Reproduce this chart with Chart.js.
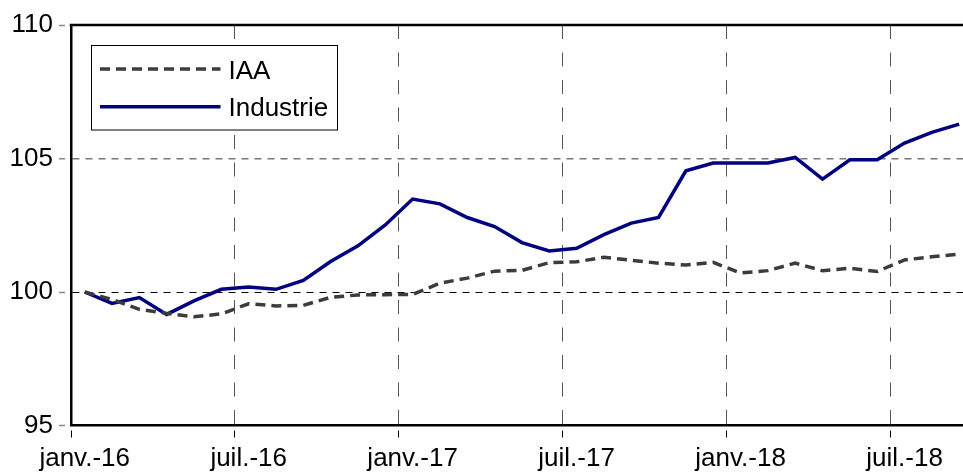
<!DOCTYPE html>
<html>
<head>
<meta charset="utf-8">
<script src="https://cdn.jsdelivr.net/npm/chart.js@4/dist/chart.umd.min.js"></script>
<style>
  html, body { margin: 0; padding: 0; background: #fff; overflow: hidden; }
  canvas { display: block; }
</style>
</head>
<body>
<canvas id="chart" width="963" height="473"></canvas>
<script>
// Monthly index, base 100 = janv.-16
const categories = [
  'janv.-16', 'févr.-16', 'mars-16', 'avr.-16', 'mai-16', 'juin-16',
  'juil.-16', 'août-16', 'sept.-16', 'oct.-16', 'nov.-16', 'déc.-16',
  'janv.-17', 'févr.-17', 'mars-17', 'avr.-17', 'mai-17', 'juin-17',
  'juil.-17', 'août-17', 'sept.-17', 'oct.-17', 'nov.-17', 'déc.-17',
  'janv.-18', 'févr.-18', 'mars-18', 'avr.-18', 'mai-18', 'juin-18',
  'juil.-18', 'août-18', 'sept.-18'
];
const iaa = [
  100.0, 99.72, 99.35, 99.2, 99.07, 99.18, 99.56, 99.48, 99.5, 99.8, 99.89, 99.9,
  99.91, 100.33, 100.52, 100.78, 100.81, 101.1, 101.13, 101.3, 101.19, 101.08, 101.01, 101.11,
  100.71, 100.8, 101.08, 100.8, 100.89, 100.77, 101.2, 101.32, 101.42
];
const industrie = [
  100.0, 99.57, 99.79, 99.16, 99.67, 100.1, 100.19, 100.1, 100.43, 101.14, 101.73, 102.51,
  103.48, 103.3, 102.79, 102.45, 101.85, 101.54, 101.64, 102.15, 102.58, 102.79, 104.54, 104.83,
  104.83, 104.83, 105.04, 104.23, 104.95, 104.95, 105.58, 105.98, 106.29
];
// x ticks sit on month boundaries, every 6 months
const xTickValues = [-0.5, 5.5, 11.5, 17.5, 23.5, 29.5];
const yTicks = [95, 100, 105, 110];

const FONT = "'Liberation Sans', Arial, sans-serif";
Chart.defaults.font.family = FONT;
Chart.defaults.color = '#000';

const toPoints = arr => arr.map((v, i) => ({ x: i, y: v }));

// top frame line + legend box drawn inside the plot
const frameAndLegend = {
  id: 'frameAndLegend',
  afterDatasetsDraw(chart) {
    const { ctx, chartArea } = chart;
    ctx.save();
    ctx.strokeStyle = '#000';
    ctx.lineWidth = 2.5;
    ctx.beginPath();
    ctx.moveTo(chartArea.left - 1.25, chartArea.top);
    ctx.lineTo(chartArea.right, chartArea.top);
    ctx.stroke();

    const bx = chartArea.left + 20.5, by = 45.5;
    ctx.fillStyle = '#fff';
    ctx.fillRect(bx, by, 246, 84.5);
    ctx.lineWidth = 1;
    ctx.strokeRect(bx, by, 246, 84.5);

    ctx.font = '26px ' + FONT;
    ctx.textBaseline = 'alphabetic';
    chart.data.datasets.forEach((ds, i) => {
      const y = 69 + i * 37.7;
      ctx.strokeStyle = ds.borderColor;
      ctx.lineWidth = ds.borderWidth;
      ctx.setLineDash(ds.borderDash || []);
      ctx.beginPath();
      ctx.moveTo(bx + 8.5, y);
      ctx.lineTo(bx + 129, y);
      ctx.stroke();
      ctx.setLineDash([]);
      ctx.fillStyle = '#000';
      ctx.fillText(ds.label, bx + 137, y + 9.5);
    });
    ctx.restore();
  }
};

new Chart(document.getElementById('chart').getContext('2d'), {
  type: 'line',
  data: {
    datasets: [
      {
        label: 'IAA',
        data: toPoints(iaa),
        borderColor: '#3c3c3c',
        borderWidth: 3.5,
        borderDash: [10, 6],
        pointRadius: 0,
        tension: 0,
        fill: false
      },
      {
        label: 'Industrie',
        data: toPoints(industrie),
        borderColor: '#000080',
        borderWidth: 3.5,
        pointRadius: 0,
        tension: 0,
        fill: false
      }
    ]
  },
  options: {
    responsive: false,
    animation: false,
    devicePixelRatio: 1,
    layout: { padding: { top: 25, left: 0, right: 0, bottom: 0 } },
    plugins: {
      legend: { display: false },
      tooltip: { enabled: false }
    },
    scales: {
      x: {
        type: 'linear',
        bounds: 'data',
        min: -0.5,
        max: 32.14,
        afterBuildTicks: scale => { scale.ticks = xTickValues.map(v => ({ value: v })); },
        afterFit: scale => { scale.height = 47.5; },
        ticks: {
          autoSkip: false,
          maxRotation: 0,
          padding: 6,
          labelOffset: 13.7, // labels centred on the month, tick marks on the boundary
          font: { size: 26 },
          callback: value => categories[Math.round(value + 0.5)]
        },
        grid: {
          color: ctx => (ctx.tick && ctx.tick.value === -0.5) ? 'rgba(0,0,0,0)' : '#555',
          lineWidth: 1,
          tickLength: 12,
          tickColor: '#000',
          tickWidth: 1,
          tickBorderDash: [0, 4, 7]
        },
        border: { display: true, color: '#000', width: 2.5, dash: [14, 13.5] }
      },
      y: {
        min: 95,
        max: 110,
        afterBuildTicks: scale => { scale.ticks = yTicks.map(v => ({ value: v })); },
        afterFit: scale => { scale.width = 71; },
        ticks: {
          padding: 6,
          font: { size: 26 },
          callback: value => String(value)
        },
        grid: {
          color: ctx => {
            const v = ctx.tick && ctx.tick.value;
            if (v === 100) return '#000';
            if (v === 105) return '#777';
            return 'rgba(0,0,0,0)';
          },
          lineWidth: ctx => (ctx.tick && ctx.tick.value === 105) ? 1.5 : 1,
          tickLength: 12,
          tickColor: '#888',
          tickWidth: 1.5,
          tickBorderDash: [6, 10]
        },
        border: { display: true, color: '#000', width: 2.5, dash: [7, 6] }
      }
    }
  },
  plugins: [frameAndLegend]
});
</script>
</body>
</html>
